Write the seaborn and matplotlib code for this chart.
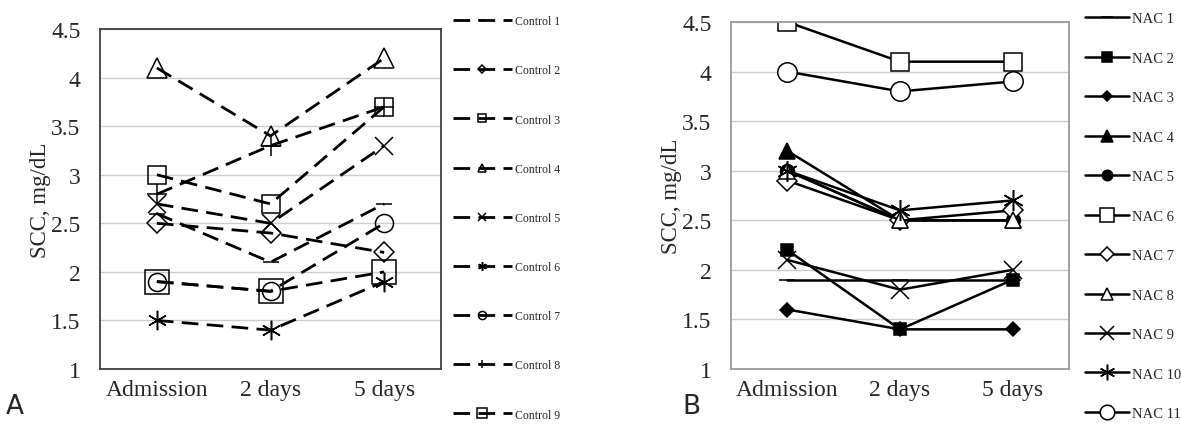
import matplotlib
matplotlib.use('Agg')
import matplotlib.pyplot as plt
import numpy as np
import seaborn as sns

sns.set_style('white')
plt.rcParams['font.family'] = ['Liberation Serif', 'DejaVu Serif']

#categories on the x axis
days = ['Admission', '2 days', '5 days']
yticks = [1, 1.5, 2, 2.5, 3, 3.5, 4, 4.5]

#panel A: control group, SCC per time point
control_names = ['Control 1', 'Control 2', 'Control 3', 'Control 4', 'Control 5',
                 'Control 6', 'Control 7', 'Control 8', 'Control 9']
control_1 = [2.6, 2.1, 2.7]
control_2 = [2.5, 2.4, 2.2]
control_3 = [3.0, 2.7, 3.7]
control_4 = [4.1, 3.4, 4.2]
control_5 = [2.7, 2.5, 3.3]
control_6 = [1.5, 1.4, 1.9]
control_7 = [1.9, 1.8, 2.5]
control_8 = [2.8, 3.3, 3.7]
control_9 = [1.9, 1.8, 2.0]
control_vals = [control_1, control_2, control_3, control_4, control_5,
                control_6, control_7, control_8, control_9]

#panel B: NAC group
nac_names = ['NAC 1', 'NAC 2', 'NAC 3', 'NAC 4', 'NAC 5', 'NAC 6',
             'NAC 7', 'NAC 8', 'NAC 9', 'NAC 10', 'NAC 11']
nac_1 = [1.9, 1.9, 1.9]
nac_2 = [2.2, 1.4, 1.9]
nac_3 = [1.6, 1.4, 1.4]
nac_4 = [3.2, 2.5, 2.5]
nac_5 = [3.0, 2.5, 2.5]
nac_6 = [4.5, 4.1, 4.1]
nac_7 = [2.9, 2.5, 2.6]
nac_8 = [3.0, 2.5, 2.5]
nac_9 = [2.1, 1.8, 2.0]
nac_10 = [3.0, 2.6, 2.7]
nac_11 = [4.0, 3.8, 3.9]
nac_vals = [nac_1, nac_2, nac_3, nac_4, nac_5, nac_6,
            nac_7, nac_8, nac_9, nac_10, nac_11]

asterisk = (6, 2, 0)
# marker, face, size
control_style = [('_', 'none', 12), ('D', 'none', 10), ('s', 'none', 13), ('^', 'none', 14),
                 ('x', 'none', 13), (asterisk, 'none', 14), ('o', 'none', 13),
                 ('+', 'none', 14), ('s', 'none', 17)]
nac_style = [('_', 'black', 12), ('s', 'black', 9), ('D', 'black', 7), ('^', 'black', 12),
             ('o', 'black', 10), ('s', 'white', 13), ('D', 'white', 10), ('^', 'white', 12),
             ('x', 'none', 13), (asterisk, 'none', 15), ('o', 'white', 14)]

fig = plt.figure(figsize=(11.81, 4.27), dpi=100)
ax1 = fig.add_axes([0.0847, 0.1335, 0.2887, 0.796])
ax2 = fig.add_axes([0.619, 0.1335, 0.2862, 0.8126])

xpos = np.arange(len(days))

def draw(ax, names, vals, styles, ls, lw):
    for name, v, (m, face, ms) in zip(names, vals, styles):
        sns.lineplot(x=xpos, y=v, ax=ax, color='black', linestyle=ls, linewidth=lw,
                     marker=m, markersize=ms, markerfacecolor=face,
                     markeredgecolor='black', markeredgewidth=1.1, label=name)

draw(ax1, control_names, control_vals, control_style, (0, (6, 3)), 2.0)
draw(ax2, nac_names, nac_vals, nac_style, '-', 1.8)

for ax, spc in [(ax1, '#404040'), (ax2, '#9a9a9a')]:
    ax.set_xlim(-0.5, 2.5)
    ax.set_ylim(1, 4.5)
    ax.set_yticks(yticks)
    ax.set_yticklabels([f'{t:g}' for t in yticks], fontsize=17)
    ax.set_xticks(xpos)
    ax.set_xticklabels(days, fontsize=17)
    ax.tick_params(axis='y', length=0, pad=14)
    ax.tick_params(axis='x', length=0, pad=7)
    ax.yaxis.grid(True, color='#cccccc', linewidth=1)
    ax.set_ylabel('SCC, mg/dL', fontsize=16.5, labelpad=0)
    ax.set_xlabel('')
    for s in ax.spines.values():
        s.set_color(spc)
        s.set_linewidth(1.3)

leg1 = ax1.legend(loc='upper left', bbox_to_anchor=(1.02, 1.055), frameon=False,
                  fontsize=8.5, labelspacing=3.15, handlelength=5, markerscale=0.45,
                  handletextpad=0.3, borderaxespad=0)
leg2 = ax2.legend(loc='upper left', bbox_to_anchor=(1.03, 1.045), frameon=False,
                  fontsize=10.5, labelspacing=1.8, handlelength=3, markerscale=0.75,
                  handletextpad=0.2, borderaxespad=0)

fig.text(0.005, 0.03, 'A', fontsize=19, family='DejaVu Sans')
fig.text(0.578, 0.03, 'B', fontsize=19, family='DejaVu Sans')

fig.savefig('out.png', dpi=100)
